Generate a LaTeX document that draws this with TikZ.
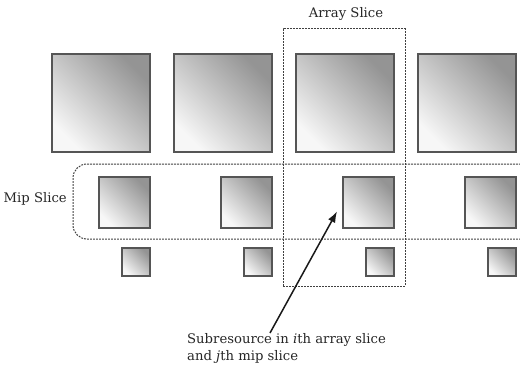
\documentclass[tikz,border=0pt]{standalone}
\usepackage{fontspec}
\setmainfont{DejaVu Serif}
\usepackage{tikz}
\usetikzlibrary{positioning,arrows.meta}
\definecolor{rim}{HTML}{555555}
\definecolor{fade}{HTML}{949494}

\begin{document}
\begin{tikzpicture}[x=1pt,y=-1pt,font=\fontsize{13.2}{17.5}\selectfont,>={Latex[length=11pt,width=8pt]},
  tex/.style={draw=rim,line width=1.3pt,top color=fade,bottom color=white!97!black,
    shading angle=-45,inner sep=0pt,outer sep=0pt},
  slicebox/.style={draw=black!75,line width=1pt,dash pattern=on 1.8pt off 1.2pt,
    inner sep=0pt},
  lbl/.style={inner sep=0pt,text=black!85}]
\useasboundingbox (0,0) rectangle (520,369);

% ---- mip chain of every array slice
\foreach \i in {0,...,3}{
  \node[tex,minimum size=98pt] (b\i) at (101+122*\i,103) {};
  \node[tex,minimum size=51pt] (m\i) at (124.5+122*\i,202.5) {};
  \node[tex,minimum size=28pt] (s\i) at (136+122*\i,262) {};
}

% ---- slices
\node[slicebox,minimum width=122pt,minimum height=257pt] (arr) at (344,157.5) {};
\node[slicebox,rounded corners=14pt,minimum width=465pt,minimum height=75pt] (mip) at (305.5,201.5) {};
\node[lbl] (arrlbl) at (346,14) {Array Slice};
\node[lbl,anchor=east] (miplbl) at (67,199) {Mip Slice};

% ---- subresource
\node[lbl,anchor=north west,align=left] (note) at (187,333)
  {Subresource in \textit{i}th array slice\\and \textit{j}th mip slice};
\coordinate (hit) at ([shift={(-6pt,-9pt)}]m2.west);
\draw[->,line width=1.5pt,black!90] ([xshift=83pt]note.north west) -- (hit);
\end{tikzpicture}
\end{document}
